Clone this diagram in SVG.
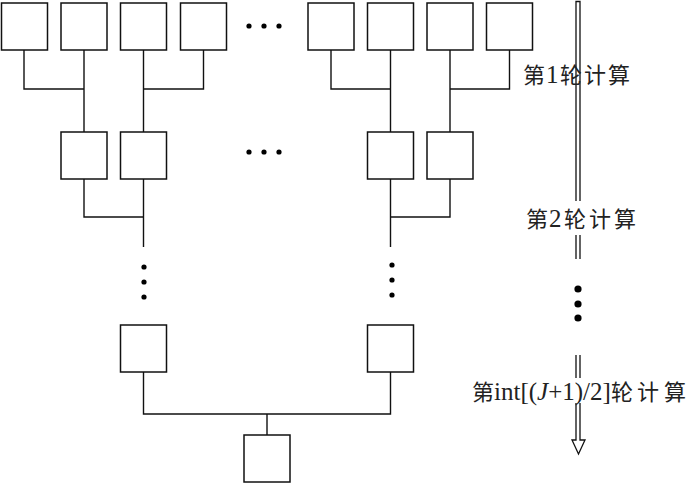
<svg xmlns="http://www.w3.org/2000/svg" width="700" height="483" viewBox="0 0 700 483">
<style>
.box{fill:#fff;stroke:#111;stroke-width:1.5}
.ln{fill:none;stroke:#111;stroke-width:1.4}
.dot{fill:#000}
.lbl{font-family:"Liberation Serif","Noto Sans CJK SC",serif;font-size:22px;fill:#222}
.lat{font-size:25px}
.arr{fill:none;stroke:#111;stroke-width:1.3}
</style>
<rect width="700" height="483" fill="#fff"/>
<g id="connectors">
<path class="ln" d="M24 50V89H84M84 50V132"/>
<path class="ln" d="M203.5 50V89H143.5M143.5 50V132"/>
<path class="ln" d="M331 50V89H390.5M390.5 50V132"/>
<path class="ln" d="M509.5 50V89H450M450 50V132"/>
<path class="ln" d="M84 179V217H143.5M143.5 179V247"/>
<path class="ln" d="M450 179V217H390.5M390.5 179V247"/>
<path class="ln" d="M143.5 372V414H390.5V372M267 414V435"/>
</g>
<g id="r1b1"><rect class="box" x="1.5" y="3" width="46" height="47"/></g>
<g id="r1b2"><rect class="box" x="61" y="3" width="46" height="47"/></g>
<g id="r1b3"><rect class="box" x="120.5" y="3" width="46" height="47"/></g>
<g id="r1b4"><rect class="box" x="180.5" y="3" width="46" height="47"/></g>
<g id="r1b5"><rect class="box" x="308" y="3" width="46" height="47"/></g>
<g id="r1b6"><rect class="box" x="367.5" y="3" width="46" height="47"/></g>
<g id="r1b7"><rect class="box" x="427" y="3" width="46" height="47"/></g>
<g id="r1b8"><rect class="box" x="486.5" y="3" width="46" height="47"/></g>
<g id="r2b1"><rect class="box" x="61" y="132" width="46" height="47"/></g>
<g id="r2b2"><rect class="box" x="120.5" y="132" width="46" height="47"/></g>
<g id="r2b3"><rect class="box" x="367.5" y="132" width="46" height="47"/></g>
<g id="r2b4"><rect class="box" x="427" y="132" width="46" height="47"/></g>
<g id="r3b1"><rect class="box" x="120.5" y="325" width="46" height="47"/></g>
<g id="r3b2"><rect class="box" x="367.5" y="325" width="46" height="47"/></g>
<g id="r4b1"><rect class="box" x="244" y="435" width="46" height="47"/></g>
<g id="dots">
<circle class="dot" cx="249" cy="26" r="2.6"/><circle class="dot" cx="264" cy="26" r="2.6"/><circle class="dot" cx="279" cy="26" r="2.6"/>
<circle class="dot" cx="249" cy="152" r="2.6"/><circle class="dot" cx="264" cy="152" r="2.6"/><circle class="dot" cx="279" cy="152" r="2.6"/>
<circle class="dot" cx="144" cy="267" r="2.6"/><circle class="dot" cx="144" cy="282" r="2.6"/><circle class="dot" cx="144" cy="297" r="2.6"/>
<circle class="dot" cx="392" cy="265" r="2.6"/><circle class="dot" cx="392" cy="280" r="2.6"/><circle class="dot" cx="392" cy="295" r="2.6"/>
</g>
<g id="round-arrow">
<path class="arr" d="M576 201V1.5H580V201"/>
<path class="arr" d="M576 235V259M580 235V259"/>
<circle class="dot" cx="578" cy="289" r="3.6"/><circle class="dot" cx="578" cy="304" r="3.6"/><circle class="dot" cx="578" cy="318" r="3.6"/>
<path class="arr" d="M576 355V378M580 355V378"/>
<path class="arr" d="M576 403V440H572L578.5 454L585 440H580V403"/>
</g>
<g id="labels">
<text class="lbl" x="523" y="83">第<tspan class="lat" x="546">1</tspan><tspan x="560">轮</tspan><tspan x="584">计</tspan><tspan x="608">算</tspan></text>
<text class="lbl" x="526" y="227">第<tspan class="lat" x="549">2</tspan><tspan x="564">轮</tspan><tspan x="589">计</tspan><tspan x="614">算</tspan></text>
<text class="lbl" x="472" y="400">第<tspan class="lat" x="494">int[(<tspan font-style="italic">J</tspan>+1)/2]</tspan><tspan x="611">轮</tspan><tspan x="637">计</tspan><tspan x="664">算</tspan></text>
</g>
</svg>
